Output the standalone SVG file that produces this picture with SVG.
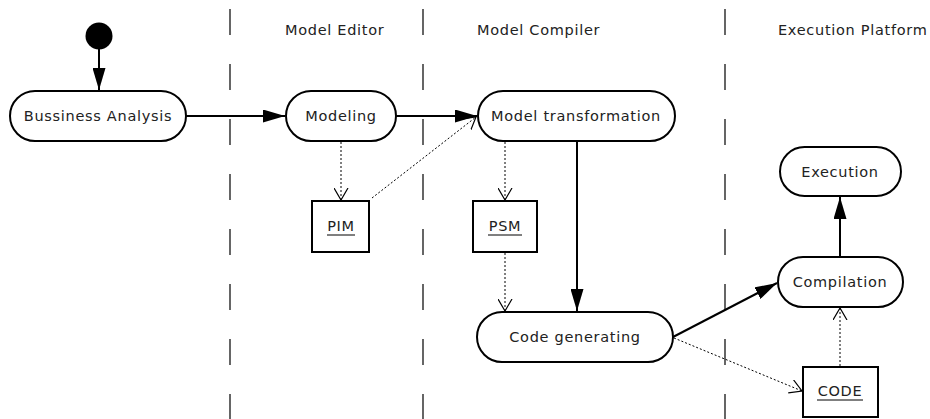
<svg xmlns="http://www.w3.org/2000/svg" width="930" height="419" viewBox="0 0 930 419">
  <style>
    text { font-family: "DejaVu Sans", "Liberation Sans", sans-serif; font-size: 14.5px; letter-spacing: 0.7px; fill: #222; }
    .lane { stroke: #000; stroke-width: 1.2; stroke-dasharray: 26 29; }
    .act { fill: #fff; stroke: #000; stroke-width: 2; }
    .obj { fill: #fff; stroke: #000; stroke-width: 2; }
    .flow { fill: none; stroke: #000; stroke-width: 2; }
    .dep { fill: none; stroke: #000; stroke-width: 1; stroke-dasharray: 2 2; }
    .ul { stroke: #000; stroke-width: 1; }
  </style>
  <defs>
    <marker id="solid" viewBox="0 0 22 13" refX="22" refY="6.5" markerWidth="22" markerHeight="13" markerUnits="userSpaceOnUse" orient="auto">
      <path d="M0,0 L22,6.5 L0,13 Z" fill="#000"/>
    </marker>
    <marker id="open" viewBox="0 0 13 15" refX="12" refY="7.5" markerWidth="13" markerHeight="15" markerUnits="userSpaceOnUse" orient="auto">
      <path d="M0,0.5 L12,7.5 L0,14.5" fill="none" stroke="#000" stroke-width="1.2"/>
    </marker>
  </defs>

  <!-- swimlane separators -->
  <g id="lanes">
    <line class="lane" x1="230" y1="9" x2="230" y2="419"/>
    <line class="lane" x1="423" y1="9" x2="423" y2="419"/>
    <line class="lane" x1="725" y1="9" x2="725" y2="419"/>
    <text x="285" y="35">Model Editor</text>
    <text x="477" y="35">Model Compiler</text>
    <text x="778" y="35">Execution Platform</text>
  </g>

  <g id="start">
    <circle cx="99" cy="36" r="13.5" fill="#000"/>
  </g>

  <g id="business-analysis">
    <rect class="act" x="10" y="91" width="176" height="50" rx="25"/>
    <text x="98" y="121" text-anchor="middle">Bussiness Analysis</text>
  </g>

  <g id="modeling">
    <rect class="act" x="286" y="91" width="110" height="50" rx="25"/>
    <text x="341" y="121" text-anchor="middle">Modeling</text>
  </g>

  <g id="model-transformation">
    <rect class="act" x="478" y="91" width="197" height="50" rx="25"/>
    <text x="576" y="121" text-anchor="middle">Model transformation</text>
  </g>

  <g id="pim">
    <rect class="obj" x="312" y="201" width="57" height="51"/>
    <text x="341" y="231" text-anchor="middle">PIM</text>
    <line class="ul" x1="327" y1="235" x2="355" y2="235"/>
  </g>

  <g id="psm">
    <rect class="obj" x="473" y="201" width="64" height="51"/>
    <text x="505" y="231" text-anchor="middle">PSM</text>
    <line class="ul" x1="488" y1="235" x2="522" y2="235"/>
  </g>

  <g id="code-generating">
    <rect class="act" x="477" y="312" width="196" height="50" rx="25"/>
    <text x="575" y="342" text-anchor="middle">Code generating</text>
  </g>

  <g id="execution">
    <rect class="act" x="780" y="147" width="121" height="49" rx="24.5"/>
    <text x="840" y="177" text-anchor="middle">Execution</text>
  </g>

  <g id="compilation">
    <rect class="act" x="778" y="257" width="125" height="50" rx="25"/>
    <text x="840" y="287" text-anchor="middle">Compilation</text>
  </g>

  <g id="code">
    <rect class="obj" x="803" y="367" width="75" height="50"/>
    <text x="840" y="396" text-anchor="middle">CODE</text>
    <line class="ul" x1="817" y1="400" x2="863" y2="400"/>
  </g>

  <g id="connectors">
    <line class="flow" x1="99" y1="49" x2="99" y2="90" marker-end="url(#solid)"/>
    <line class="flow" x1="186" y1="116" x2="285" y2="116" marker-end="url(#solid)"/>
    <line class="flow" x1="396" y1="116" x2="477" y2="116" marker-end="url(#solid)"/>
    <line class="flow" x1="577" y1="141" x2="577" y2="311" marker-end="url(#solid)"/>
    <line class="flow" x1="673" y1="337" x2="777" y2="283" marker-end="url(#solid)"/>
    <line class="flow" x1="840" y1="257" x2="840" y2="197" marker-end="url(#solid)"/>
    <line class="dep" x1="341" y1="142" x2="341" y2="200" marker-end="url(#open)"/>
    <line class="dep" x1="372" y1="198" x2="476" y2="117" marker-end="url(#open)"/>
    <line class="dep" x1="505" y1="142" x2="505" y2="200" marker-end="url(#open)"/>
    <line class="dep" x1="505" y1="253" x2="505" y2="311" marker-end="url(#open)"/>
    <line class="dep" x1="674" y1="338" x2="802" y2="391" marker-end="url(#open)"/>
    <line class="dep" x1="840" y1="366" x2="840" y2="308" marker-end="url(#open)"/>
  </g>
</svg>
